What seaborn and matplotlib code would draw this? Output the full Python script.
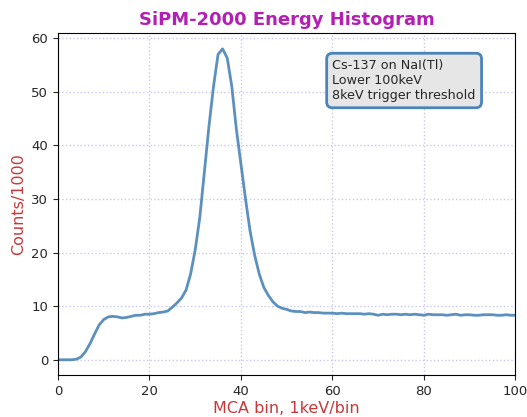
import numpy as np
import pandas as pd
import matplotlib
matplotlib.use("Agg")
import matplotlib.pyplot as plt
import seaborn as sns

bins = list(range(0, 101))
counts = [
    0.0, 0.0, 0.0, 0.0, 0.1, 0.5, 1.5, 3.0, 4.8, 6.5,
    7.5, 8.0, 8.1, 8.0, 7.8, 7.9, 8.1, 8.3, 8.3, 8.5,
    8.5, 8.6, 8.8, 8.9, 9.1, 9.8, 10.6, 11.5, 13.0, 16.0,
    20.5, 26.5, 35.0, 43.5, 51.0, 57.0, 58.0, 56.3, 51.0, 43.0,
    36.5, 30.0, 24.0, 19.5, 16.0, 13.5, 12.0, 10.8, 10.0, 9.6,
    9.4, 9.1, 9.0, 9.0, 8.8, 8.9, 8.8, 8.8, 8.7, 8.7,
    8.7, 8.6, 8.7, 8.6, 8.6, 8.6, 8.6, 8.5, 8.6, 8.5,
    8.3, 8.5, 8.4, 8.5, 8.5, 8.4, 8.5, 8.4, 8.5, 8.4,
    8.3, 8.5, 8.4, 8.4, 8.4, 8.3, 8.4, 8.5, 8.3, 8.4,
    8.4, 8.3, 8.3, 8.4, 8.4, 8.4, 8.3, 8.3, 8.4, 8.3,
    8.3,
]

df = pd.DataFrame({"bin": bins, "counts": counts})

sns.set_style("ticks")
plt.rcParams['font.family'] = ['DejaVu Sans']

fig, ax = plt.subplots(figsize=(5.27, 4.17), dpi=100)
sns.lineplot(data=df, x="bin", y="counts", ax=ax, color="#4a84b8", linewidth=2.0, alpha=0.9)
ax.set_xlim(0, 100)
ax.set_xticks([0, 20, 40, 60, 80, 100])
ax.set_yticks([0, 10, 20, 30, 40, 50, 60])
ax.tick_params(labelsize=9.5)
ax.grid(True, linestyle=":", color="#c8c8ee", linewidth=1.0)
ax.set_title("SiPM-2000 Energy Histogram", color="#b31fb3", fontweight="bold", fontsize=13)
ax.set_xlabel("MCA bin, 1keV/bin", color="#c8383a", fontsize=11.5, labelpad=2)
ax.set_ylabel("Counts/1000", color="#c8383a", fontsize=11.5)
for s in ax.spines.values():
    s.set_visible(True)
    s.set_color("black")
ax.text(0.6, 0.925, "Cs-137 on NaI(Tl)\nLower 100keV\n8keV trigger threshold",
        transform=ax.transAxes, fontsize=9.2, va="top", ha="left",
        bbox=dict(boxstyle="round,pad=0.45", facecolor="#e6e6e6", edgecolor="#4a84b8", linewidth=2))
fig.subplots_adjust(left=0.11, right=0.978, bottom=0.1, top=0.92)
fig.savefig("out.png", dpi=100)
